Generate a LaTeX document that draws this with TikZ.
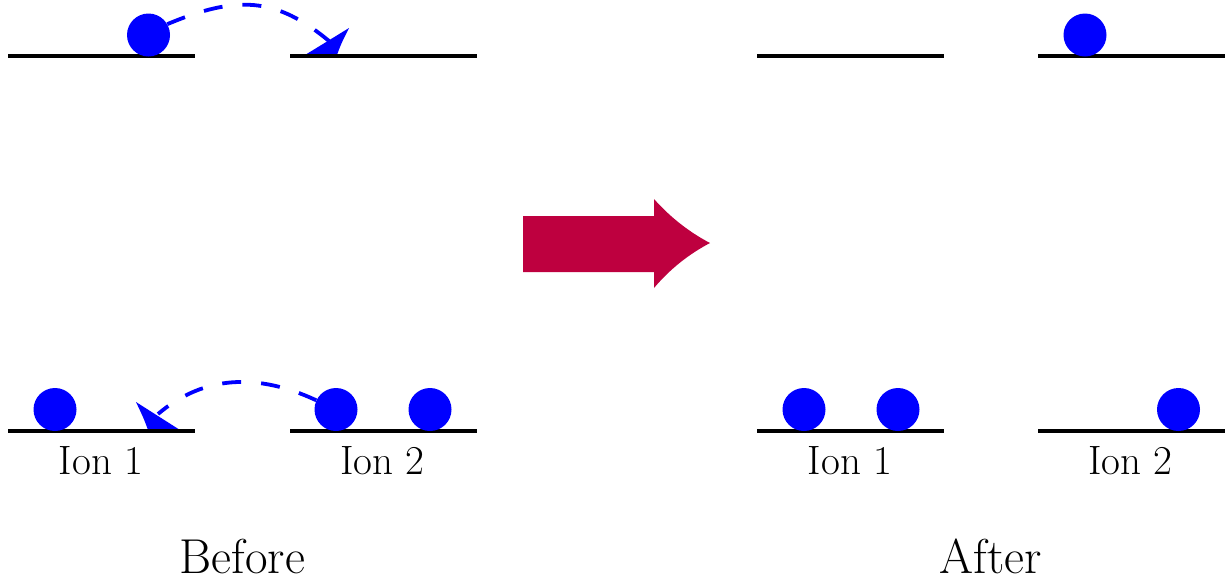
\documentclass[tikz,border=0pt]{standalone}
\definecolor{arrowred}{RGB}{190,0,63}
\begin{document}
\begin{tikzpicture}[x=1pt,y=-1pt,
  level/.style={line width=4.5pt},
  ion/.style={circle,fill=blue,inner sep=0pt,minimum size=43pt},
  hop/.style={draw=blue,line width=3.8pt,dash pattern=on 19pt off 20pt},
  tipfill/.style={fill=blue},
  lab/.style={anchor=base,inner sep=0pt,font=\fontsize{41}{48}\selectfont},
  captext/.style={anchor=base,inner sep=0pt,text depth=0pt,font=\fontsize{49}{58}\selectfont}]
\useasboundingbox (0,0) rectangle (1225,582);
% arrowheads (behind lines)
\fill[tipfill] (349,28) -- (305,55) -- (337,55) .. controls (341,44) .. (349,28) -- cycle;
\fill[tipfill] (136,402) -- (180,430) -- (148,430) .. controls (144,419) .. (136,402) -- cycle;
% before: levels
\coordinate (b1ta) at (8,56);   \coordinate (b1tb) at (195,56);
\coordinate (b2ta) at (290,56); \coordinate (b2tb) at (477,56);
\coordinate (b1ba) at (8,431);  \coordinate (b1bb) at (195,431);
\coordinate (b2ba) at (290,431);\coordinate (b2bb) at (477,431);
\draw[level] (b1ta) -- (b1tb);
\draw[level] (b2ta) -- (b2tb);
\draw[level] (b1ba) -- (b1bb);
\draw[level] (b2ba) -- (b2bb);
% after: levels
\coordinate (a1ta) at (757,56);  \coordinate (a1tb) at (944,56);
\coordinate (a2ta) at (1038,56); \coordinate (a2tb) at (1225,56);
\coordinate (a1ba) at (757,431); \coordinate (a1bb) at (944,431);
\coordinate (a2ba) at (1038,431);\coordinate (a2bb) at (1225,431);
\draw[level] (a1ta) -- (a1tb);
\draw[level] (a2ta) -- (a2tb);
\draw[level] (a1ba) -- (a1bb);
\draw[level] (a2ba) -- (a2bb);
% electrons before
\node[ion] (e1) at (148.5,35) {};
\node[ion] (e2) at (55,409.5) {};
\node[ion] (e3) at (336,409.5) {};
\node[ion] (e4) at (430,409.5) {};
% electrons after
\node[ion] (f1) at (1085,35) {};
\node[ion] (f2) at (804,409.5) {};
\node[ion] (f3) at (898,409.5) {};
\node[ion] (f4) at (1178.5,409.5) {};
% hops
\coordinate (t1) at (329,41);
\coordinate (t2) at (158,414);
\draw[hop] (e1.30) .. controls (237,-5) and (276,-3) .. (t1);
\draw[hop] (e3.155) .. controls (258,373) and (204,375) .. (t2);
% labels
\node[lab] (l1) at (101,474) {Ion 1};
\node[lab] (l2) at (382.5,474) {Ion 2};
\node[lab] (l3) at (850,474) {Ion 1};
\node[lab] (l4) at (1130.5,474) {Ion 2};
\node[captext] (before) at (242.5,573) {Before};
\node[captext] (after) at (991,573) {After};
% big arrow
\fill[arrowred] (523,216) -- (654,216) -- (654,199)
  .. controls (670,217) and (689,232) .. (710,243)
  .. controls (689,254) and (670,269) .. (654,288)
  -- (654,272) -- (523,272) -- cycle;
\end{tikzpicture}
\end{document}
